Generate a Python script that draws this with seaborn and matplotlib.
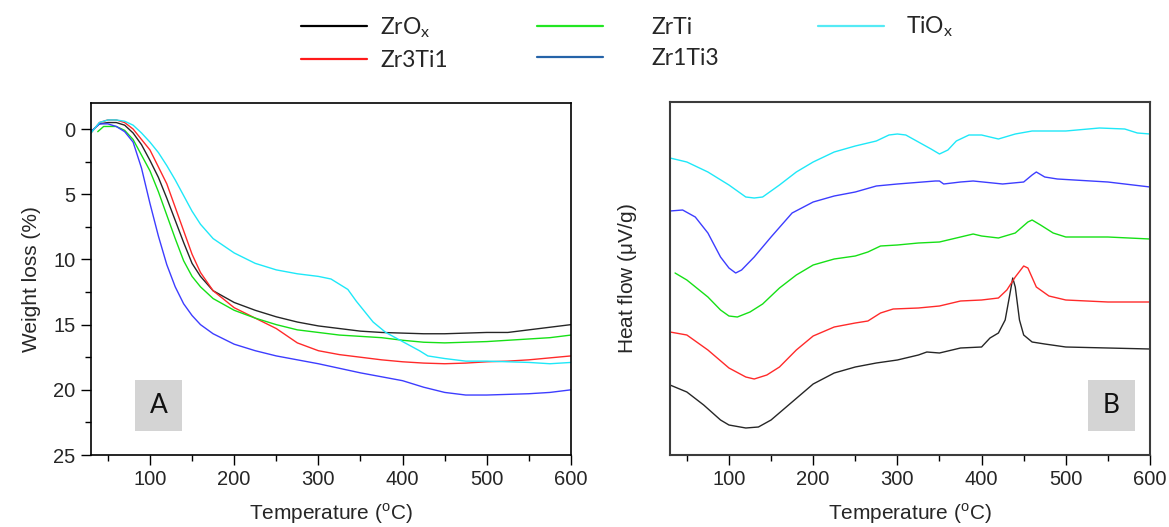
import numpy as np
import matplotlib
matplotlib.use("Agg")
import matplotlib.pyplot as plt
from matplotlib.lines import Line2D
from matplotlib.patches import Rectangle
import seaborn as sns
import pandas as pd

sns.set_style("ticks")
plt.rcParams['font.family'] = ['Liberation Sans', 'DejaVu Sans']
plt.rcParams['mathtext.fontset'] = 'custom'
plt.rcParams['mathtext.rm'] = 'Liberation Sans'

samples = ["ZrOx", "Zr3Ti1", "ZrTi", "Zr1Ti3", "TiOx"]
legend_labels = ["ZrO$_\\mathregular{x}$", "Zr3Ti1", "ZrTi", "Zr1Ti3", "TiO$_\\mathregular{x}$"]
line_colors = {"ZrOx": "#262626", "Zr3Ti1": "#ff2a2a", "ZrTi": "#16e016",
               "Zr1Ti3": "#3d3dff", "TiOx": "#1ee8f8"}
legend_colors = ["#000000", "#ff1a1a", "#22e622", "#2563a8", "#55eaf5"]

# ---- (A) TGA: weight loss (%) vs temperature
tga_temp = [30, 40, 50, 60, 70, 80, 90, 100, 110, 120, 130, 140, 150, 160, 175, 200,
            225, 250, 275, 300, 325, 350, 375, 400, 425, 450, 475, 500, 525, 550, 575, 600]
tga_zrox = [0.2, -0.4, -0.5, -0.5, -0.3, 0.3, 1.2, 2.4, 3.7, 5.3, 7.0, 8.7, 10.3, 11.3, 12.4, 13.3,
            13.9, 14.4, 14.8, 15.1, 15.3, 15.5, 15.6, 15.65, 15.7, 15.7, 15.65, 15.6, 15.6, 15.4, 15.2, 15.0]
tga_zr3ti1 = [0.3, -0.5, -0.7, -0.7, -0.5, 0.0, 0.8, 1.6, 2.9, 4.2, 6.0, 7.8, 9.6, 11.0, 12.4, 13.7,
              14.5, 15.3, 16.4, 17.0, 17.3, 17.5, 17.7, 17.85, 17.95, 18.0, 17.95, 17.85, 17.8, 17.7, 17.55, 17.4]
tga_zrti_temp = [38, 45, 50, 60, 70, 80, 90, 100, 110, 120, 130, 140, 150, 160, 175, 200,
                 225, 250, 275, 300, 325, 350, 375, 400, 425, 450, 475, 500, 525, 550, 575, 600]
tga_zrti = [0.2, -0.2, -0.2, -0.2, 0.1, 0.8, 2.0, 3.2, 4.8, 6.6, 8.4, 10.1, 11.3, 12.1, 13.0, 13.9,
            14.5, 15.0, 15.4, 15.6, 15.8, 15.9, 16.0, 16.2, 16.35, 16.4, 16.35, 16.3, 16.2, 16.1, 16.0, 15.8]
tga_zr1ti3 = [0.2, -0.4, -0.4, -0.2, 0.2, 1.0, 3.0, 5.7, 8.2, 10.4, 12.1, 13.4, 14.3, 15.0, 15.7, 16.5,
              17.0, 17.4, 17.7, 18.0, 18.35, 18.7, 19.0, 19.3, 19.8, 20.2, 20.4, 20.4, 20.35, 20.3, 20.2, 20.0]
tga_tiox_temp = [30, 40, 50, 60, 70, 80, 90, 100, 110, 120, 130, 140, 150, 160, 175, 200, 225, 250,
                 275, 300, 315, 325, 335, 345, 355, 365, 380, 400, 420, 430, 450, 475, 500, 550, 575, 600]
tga_tiox = [0.3, -0.5, -0.7, -0.7, -0.6, -0.3, 0.3, 1.0, 1.8, 2.8, 3.9, 5.1, 6.3, 7.3, 8.4, 9.5, 10.3, 10.8,
            11.1, 11.3, 11.5, 11.9, 12.3, 13.2, 14.0, 14.8, 15.6, 16.3, 17.0, 17.4, 17.6, 17.8, 17.8, 17.9, 18.0, 17.9]

# ---- (B) DSC: heat flow (arbitrary offset units) vs temperature
dsc_zrox_temp = [30, 50, 70, 90, 100, 120, 135, 150, 175, 200, 225, 250, 275, 300, 325, 335, 350, 375,
                 400, 410, 420, 428, 433, 437, 440, 445, 450, 460, 475, 500, 550, 600]
dsc_zrox = [70, 63, 50, 35, 30, 27, 28, 35, 53, 71, 82, 88, 92, 95, 100, 103, 102, 107,
            108, 117, 122, 135, 158, 177, 168, 135, 120, 113, 111, 108, 107, 106]
dsc_zr3ti1_temp = [30, 50, 75, 100, 120, 130, 145, 160, 180, 200, 225, 250, 265, 280, 295, 325, 350, 375,
                   400, 420, 430, 440, 450, 455, 465, 480, 500, 550, 600]
dsc_zr3ti1 = [123, 120, 105, 87, 78, 76, 80, 88, 105, 119, 128, 132, 134, 142, 146, 147, 149, 154,
              155, 157, 165, 178, 189, 187, 168, 159, 155, 153, 153]
dsc_zrti_temp = [36, 50, 75, 90, 100, 110, 125, 140, 160, 180, 200, 225, 250, 265, 280, 300, 325, 350,
                 375, 390, 400, 420, 440, 455, 460, 470, 485, 500, 550, 600]
dsc_zrti = [182, 175, 158, 145, 139, 138, 143, 151, 167, 180, 190, 196, 199, 203, 209, 210, 212, 213,
            218, 221, 219, 217, 222, 233, 235, 230, 222, 218, 218, 216]
dsc_zr1ti3_temp = [30, 45, 60, 75, 90, 100, 108, 115, 130, 150, 175, 200, 225, 250, 275, 300, 345, 350,
                   355, 375, 390, 425, 450, 460, 465, 475, 490, 550, 600]
dsc_zr1ti3 = [244, 245, 238, 222, 198, 187, 182, 185, 198, 218, 242, 253, 259, 263, 269, 271, 274, 274,
              271, 273, 274, 271, 273, 280, 283, 278, 276, 273, 268]
dsc_tiox_temp = [30, 50, 75, 100, 120, 130, 140, 160, 180, 200, 225, 250, 275, 290, 300, 310, 325, 340,
                 350, 360, 370, 385, 400, 420, 440, 460, 500, 540, 570, 585, 600]
dsc_tiox = [297, 293, 283, 270, 258, 257, 258, 270, 283, 293, 303, 309, 314, 320, 321, 320, 313, 306,
            301, 305, 314, 320, 320, 316, 321, 324, 324, 327, 326, 322, 321]

tga = pd.concat([
    pd.DataFrame({"T": tga_temp, "y": tga_zrox, "sample": "ZrOx"}),
    pd.DataFrame({"T": tga_temp, "y": tga_zr3ti1, "sample": "Zr3Ti1"}),
    pd.DataFrame({"T": tga_zrti_temp, "y": tga_zrti, "sample": "ZrTi"}),
    pd.DataFrame({"T": tga_temp, "y": tga_zr1ti3, "sample": "Zr1Ti3"}),
    pd.DataFrame({"T": tga_tiox_temp, "y": tga_tiox, "sample": "TiOx"}),
], ignore_index=True)
dsc = pd.concat([
    pd.DataFrame({"T": dsc_zrox_temp, "y": dsc_zrox, "sample": "ZrOx"}),
    pd.DataFrame({"T": dsc_zr3ti1_temp, "y": dsc_zr3ti1, "sample": "Zr3Ti1"}),
    pd.DataFrame({"T": dsc_zrti_temp, "y": dsc_zrti, "sample": "ZrTi"}),
    pd.DataFrame({"T": dsc_zr1ti3_temp, "y": dsc_zr1ti3, "sample": "Zr1Ti3"}),
    pd.DataFrame({"T": dsc_tiox_temp, "y": dsc_tiox, "sample": "TiOx"}),
], ignore_index=True)

W, H = 1169, 527
fig = plt.figure(figsize=(W / 100, H / 100), dpi=100)
ax1 = fig.add_axes([91 / W, 1 - 455 / H, 480 / W, 352 / H])
ax2 = fig.add_axes([670 / W, 1 - 455 / H, 480 / W, 353 / H])

sns.lineplot(data=tga, x="T", y="y", hue="sample", hue_order=samples, palette=line_colors,
             sort=False, estimator=None, legend=False, linewidth=1.0, ax=ax1)
sns.lineplot(data=dsc, x="T", y="y", hue="sample", hue_order=samples, palette=line_colors,
             sort=False, estimator=None, legend=False, linewidth=1.0, ax=ax2)

tick_fs = 14.5
label_fs = 15

ax1.set_xlim(30, 600)
ax1.set_ylim(25, -2)
ax1.set_xticks([100, 200, 300, 400, 500, 600])
ax1.set_xticks(np.arange(50, 601, 100), minor=True)
ax1.set_yticks([0, 5, 10, 15, 20, 25])
ax1.set_yticks(np.arange(2.5, 25, 5), minor=True)
ax1.set_xlabel("Temperature ($^\\mathregular{o}$C)", fontsize=label_fs, labelpad=9)
ax1.set_ylabel("Weight loss (%)", fontsize=label_fs, labelpad=9)
for s in ax1.spines.values():
    s.set_linewidth(1.2)
    s.set_color("black")

ax2.set_xlim(30, 600)
ax2.set_ylim(0, 353)
ax2.set_xticks([100, 200, 300, 400, 500, 600])
ax2.set_xticks(np.arange(50, 601, 100), minor=True)
ax2.set_yticks([])
ax2.set_xlabel("Temperature ($^\\mathregular{o}$C)", fontsize=label_fs, labelpad=9)
ax2.set_ylabel("Heat flow ($\\mathregular{\\mu}$V/g)", fontsize=label_fs, labelpad=22)
for s in ax2.spines.values():
    s.set_linewidth(1.5)
    s.set_color("#3c3c3c")

for ax in (ax1, ax2):
    ax.tick_params(axis="both", which="major", direction="out", length=7, width=1,
                   labelsize=tick_fs, pad=4, color="black")
    ax.tick_params(axis="both", which="minor", direction="out", length=4, width=1, color="black")

# panel letters
for ax, letter, x0 in ((ax1, "A", 0.092), (ax2, "B", 0.871)):
    ax.add_patch(Rectangle((x0, 0.068), 0.098, 0.145, transform=ax.transAxes,
                           facecolor="#d4d4d4", edgecolor="none", zorder=1))
    ax.text(x0 + 0.049, 0.068 + 0.0725, letter, transform=ax.transAxes, ha="center", va="center",
            fontsize=19, family=["Lato", "DejaVu Sans"], color="#111111", zorder=2)

# legend (three columns placed like the original)
leg_fs = 16.5
handles = [Line2D([], [], color=c, linewidth=1.6) for c in legend_colors]
cols = [([0, 1], 301, 0.55), ([2, 3], 537, 2.1), ([4], 818, 0.95)]
for idx, xpix, pad in cols:
    ypix = 43 if len(idx) == 2 else 27
    leg = fig.legend([handles[i] for i in idx], [legend_labels[i] for i in idx],
                     loc="center left", bbox_to_anchor=(xpix / W, 1 - ypix / H),
                     frameon=False, handlelength=2.9, handletextpad=pad,
                     borderpad=0, borderaxespad=0, labelspacing=0.45,
                     prop={"family": ["Lato", "DejaVu Sans"], "size": leg_fs})

fig.savefig("out.png", dpi=100)
